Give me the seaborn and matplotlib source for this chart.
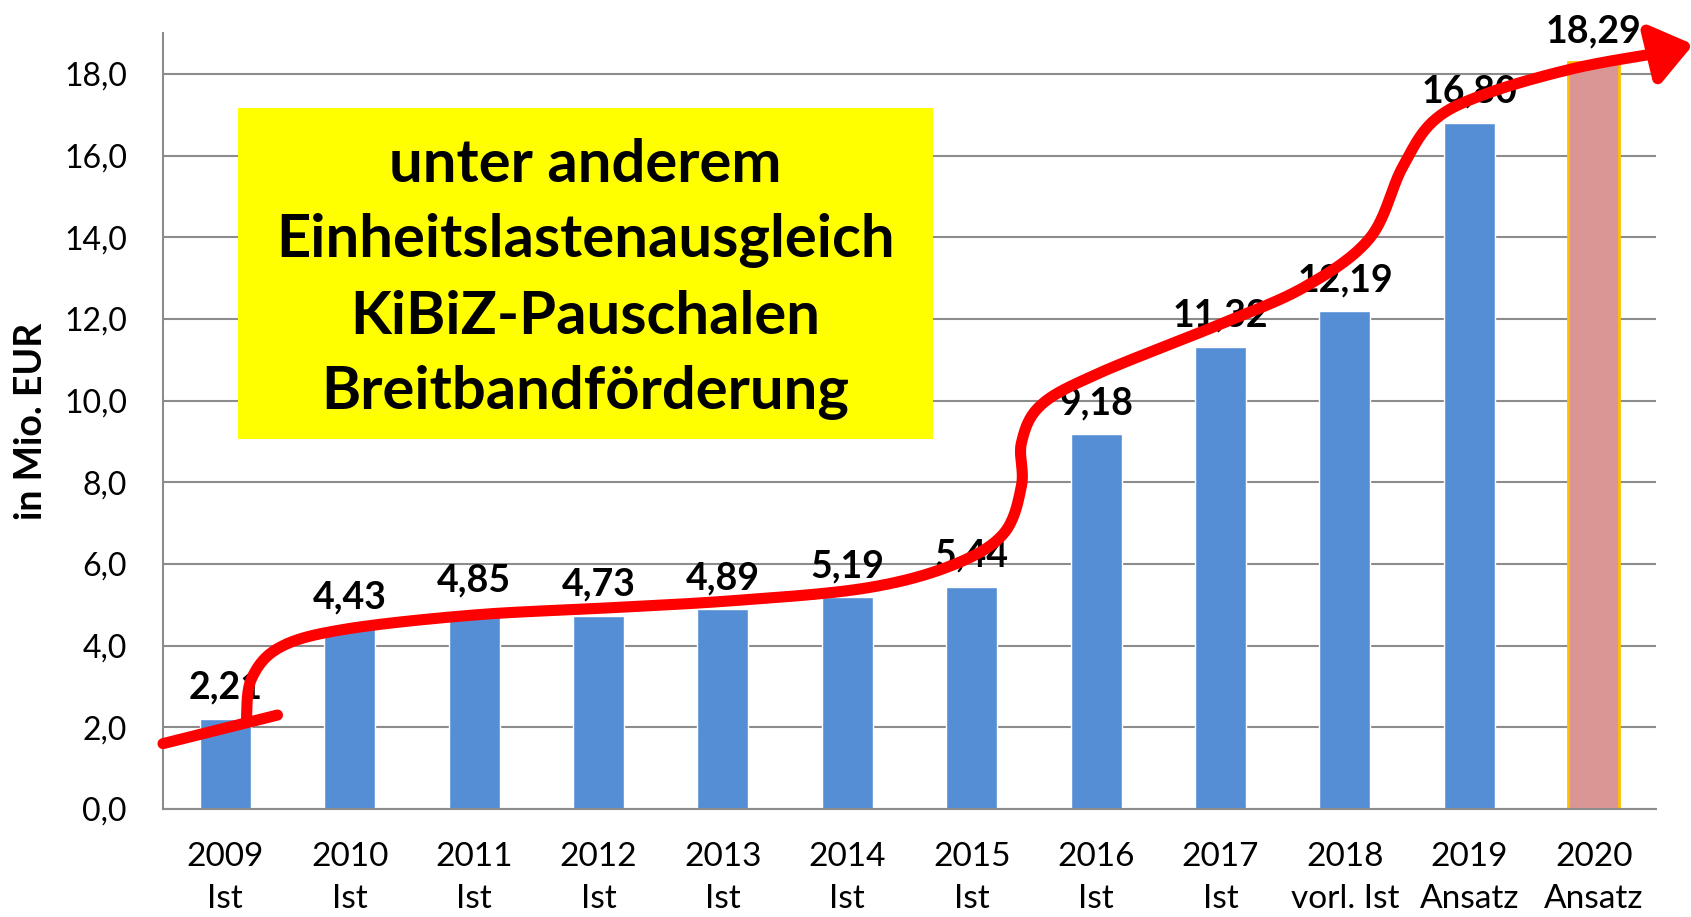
import numpy as np
import pandas as pd
import matplotlib
matplotlib.use("Agg")
import matplotlib.pyplot as plt
import matplotlib.patches as mpatches
from matplotlib.ticker import FuncFormatter, MultipleLocator
import seaborn as sns

years = ["2009", "2010", "2011", "2012", "2013", "2014", "2015", "2016", "2017", "2018", "2019", "2020"]
status = ["Ist", "Ist", "Ist", "Ist", "Ist", "Ist", "Ist", "Ist", "Ist", "vorl. Ist", "Ansatz", "Ansatz"]
values = [2.21, 4.43, 4.85, 4.73, 4.89, 5.19, 5.44, 9.18, 11.32, 12.19, 16.80, 18.29]
box_lines = ["unter anderem", "Einheitslastenausgleich", "KiBiZ-Pauschalen", "Breitbandförderung"]

# freehand trend arrow (category index, value) - an overlay
arrow_tick = [(-0.5, 1.6), (0.42, 2.3)]
arrow_path = [(0.17, 2.15), (0.21, 3.18), (0.44, 3.96), (0.96, 4.4), (2.0, 4.75), (3.05, 4.92),
              (4.08, 5.1), (5.13, 5.4), (5.82, 5.94), (6.25, 6.72), (6.4, 7.92), (6.4, 8.97),
              (6.56, 9.9), (7.03, 10.68), (7.99, 11.86), (8.68, 12.79), (9.2, 13.98),
              (9.46, 15.7), (9.72, 16.87), (10.15, 17.53), (10.85, 18.14), (11.5, 18.5)]
arrow_tip = (11.8, 18.72)

df = pd.DataFrame({"label": [f"{y}\n{s}" for y, s in zip(years, status)], "value": values})

sns.set_style("white")
plt.rcParams["font.family"] = ["Lato", "DejaVu Sans"]
plt.rcParams["text.color"] = "black"
plt.rcParams["axes.labelcolor"] = "black"
plt.rcParams["xtick.color"] = "black"
plt.rcParams["ytick.color"] = "black"

fig = plt.figure(figsize=(16.91, 9.17), dpi=100)
ax = fig.add_axes([0.0964, 0.1178, 0.8829, 0.8462])

colors = ["#558ED5"] * 11 + ["#D99694"]
sns.barplot(data=df, x="label", y="value", hue="label", palette=colors, legend=False,
            width=0.41, saturation=1, ax=ax, zorder=2)
last = ax.patches[-1]
last.set_edgecolor("#FFC000")
last.set_linewidth(2)

ax.set_ylim(0, 19)
ax.set_xlim(-0.5, 11.5)
ax.yaxis.set_major_locator(MultipleLocator(2))
ax.yaxis.set_major_formatter(FuncFormatter(lambda v, p: f"{v:.1f}".replace(".", ",")))
ax.grid(axis="y", color="#8C8C8C", lw=1.5, zorder=0)
ax.set_axisbelow(True)
for s in ["top", "right"]:
    ax.spines[s].set_visible(False)
for s in ["left", "bottom"]:
    ax.spines[s].set_color("#8C8C8C")
    ax.spines[s].set_linewidth(1.5)
ax.tick_params(axis="y", length=0, pad=26, labelsize=23)
ax.tick_params(axis="x", length=0, pad=24, labelsize=24)
for t in ax.get_xticklabels():
    t.set_linespacing(1.5)
ax.set_xlabel("")
ax.set_ylabel("in Mio. EUR", fontsize=27, fontweight="bold")
ax.yaxis.set_label_coords(-0.077, 0.5)

# value labels
for i, v in enumerate(values):
    ax.annotate(f"{v:.2f}".replace(".", ","), (i, v), xytext=(0, 10), textcoords="offset points",
                ha="center", va="bottom", fontsize=27, fontweight="bold", zorder=3)

# yellow info box
ax.add_patch(mpatches.Rectangle((0.050, 0.477), 0.466, 0.426, transform=ax.transAxes,
                                facecolor="#FFFF00", edgecolor="none", zorder=4))
ax.text(0.283, 0.683, "\n".join(box_lines), transform=ax.transAxes, ha="center", va="center",
        fontsize=43, fontweight="bold", linespacing=1.48, zorder=5)

# red arrow
def smooth(pts, n=20):
    p = np.array(pts)
    p = np.vstack([p[0], p, p[-1]])
    out = []
    for k in range(1, len(p) - 2):
        p0, p1, p2, p3 = p[k - 1], p[k], p[k + 1], p[k + 2]
        for t in np.linspace(0, 1, n, endpoint=False):
            out.append(0.5 * ((2 * p1) + (-p0 + p2) * t + (2 * p0 - 5 * p1 + 4 * p2 - p3) * t ** 2
                              + (-p0 + 3 * p1 - 3 * p2 + p3) * t ** 3))
    out.append(p[-2])
    return np.array(out)

tk = np.array(arrow_tick)
ax.plot(tk[:, 0], tk[:, 1], color="red", lw=8, solid_capstyle="round", clip_on=False, zorder=6)
curve = smooth(arrow_path)
ax.plot(curve[:, 0], curve[:, 1], color="red", lw=8, solid_capstyle="round",
        solid_joinstyle="round", clip_on=False, zorder=6)
ax.annotate("", xy=arrow_tip, xytext=arrow_path[-1], annotation_clip=False, zorder=7,
            arrowprops=dict(arrowstyle="-|>,head_length=1.2,head_width=0.9", color="red",
                            lw=8, mutation_scale=20, shrinkA=0, shrinkB=0))

fig.savefig("out.png", dpi=100)
